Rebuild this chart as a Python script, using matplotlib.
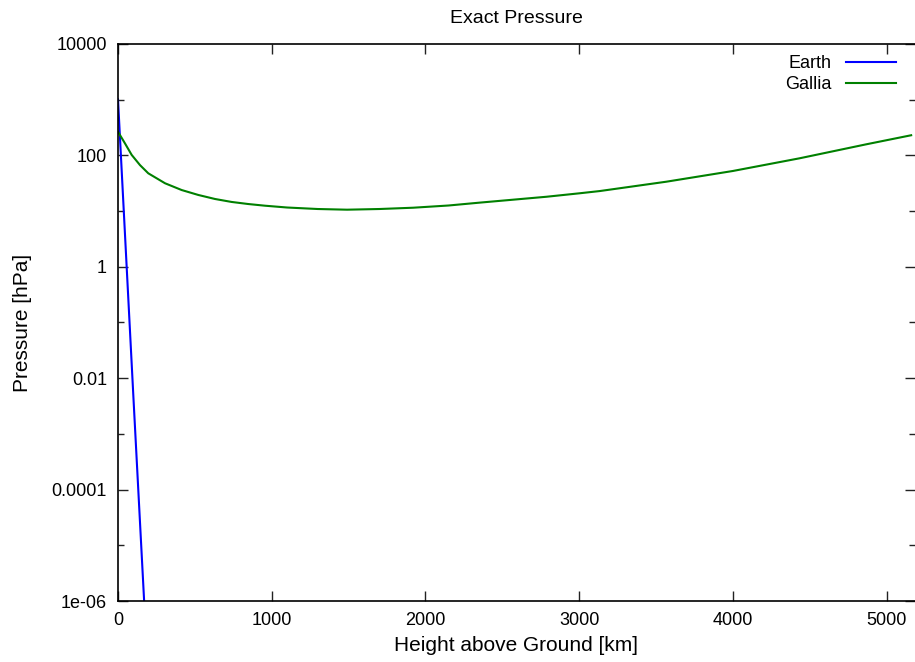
import numpy as np
import matplotlib.pyplot as plt
from matplotlib.ticker import FixedLocator, FuncFormatter

plt.rcParams['font.family'] = ['Liberation Sans', 'DejaVu Sans']

# Данные
earth_h = [0, 100, 170, 200]
earth_p = [1013, 4.7e-3, 1.0e-6, 2.3e-8]

gallia_h = [0, 45, 89, 143, 197, 306, 414, 522, 631, 739, 847, 956, 1100,
            1300, 1490, 1700, 1920, 2150, 2354, 2788, 3004, 3134, 3567, 4000,
            4434, 4867, 5160]
gallia_p = [266, 165, 102, 67, 47.7, 31.6, 23.9, 19.5, 16.5, 14.6, 13.4, 12.5,
            11.6, 10.9, 10.6, 10.9, 11.5, 12.6, 14.2, 18.1, 20.9, 22.9, 33.7,
            52.5, 88.7, 158, 230]

x_ticks = [0, 1000, 2000, 3000, 4000, 5000]
y_major = [1e-6, 1e-4, 1e-2, 1, 1e2, 1e4]
y_minor = [1e-5, 1e-3, 1e-1, 1e1, 1e3]

fig = plt.figure(figsize=(9.15, 6.62), dpi=100)
ax = fig.add_axes([118 / 915, 1 - 601 / 662, 1 - 118 / 915, (601 - 44) / 662])

ax.plot(earth_h, earth_p, color='#0000ff', lw=1.5, label='Earth')
ax.plot(gallia_h, gallia_p, color='#008000', lw=1.5, label='Gallia')

ax.set_yscale('log')
ax.set_xlim(0, 5185)
ax.set_ylim(1e-6, 1e4)

ax.xaxis.set_major_locator(FixedLocator(x_ticks))
ax.xaxis.set_minor_locator(FixedLocator([]))
ax.yaxis.set_major_locator(FixedLocator(y_major))
ax.yaxis.set_minor_locator(FixedLocator(y_minor))
ax.yaxis.set_major_formatter(FuncFormatter(lambda v, p: '%g' % v))
ax.yaxis.set_minor_formatter(FuncFormatter(lambda v, p: ''))

ax.tick_params(which='both', direction='in', top=True, right=True,
               labelsize=13, width=1, color='#222222')
ax.tick_params(which='major', length=7, pad=8)
ax.tick_params(which='minor', length=4)
ax.spines['right'].set_visible(False)
for s in ['left', 'bottom', 'top']:
    ax.spines[s].set_linewidth(1.2)

ax.set_title('Exact Pressure', fontsize=14, pad=15)
ax.set_xlabel('Height above Ground [km]', fontsize=15, labelpad=5)
ax.set_ylabel('Pressure [hPa]', fontsize=15, labelpad=14)

ax.legend(loc='upper right', frameon=False, markerfirst=False, fontsize=13,
          handlelength=2.8, labelspacing=0.25, borderaxespad=0.2,
          bbox_to_anchor=(0.99, 1.0))

fig.savefig('out.png', dpi=100)
